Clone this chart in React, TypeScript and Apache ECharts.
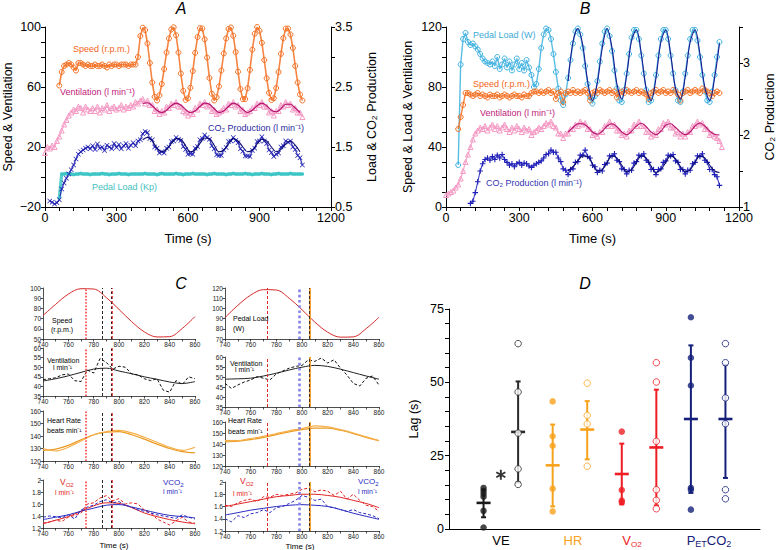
import React, { useEffect, useRef } from "react";
import * as echarts from "echarts";

const FONT = '"Liberation Sans", Arial, Helvetica, sans-serif';

// ---------------- Panel A (time in s) ----------------
const timeA = [
  0, 10, 20, 30, 40, 50, 60, 70, 80, 90,
  100, 110, 120, 130, 140, 150, 160, 170, 180, 190,
  200, 210, 220, 230, 240, 250, 260, 270, 280, 290,
  300, 310, 320, 330, 340, 350, 360, 370, 380, 390,
  400, 410, 420, 430, 440, 450, 460, 470, 480, 490,
  500, 510, 520, 530, 540, 550, 560, 570, 580, 590,
  600, 610, 620, 630, 640, 650, 660, 670, 680, 690,
  700, 710, 720, 730, 740, 750, 760, 770, 780, 790,
  800, 810, 820, 830, 840, 850, 860, 870, 880, 890,
  900, 910, 920, 930, 940, 950, 960, 970, 980, 990,
  1000, 1010, 1020, 1030, 1040, 1050, 1060, 1070, 1080,
];
const speedA = [
  null, null, null, null, null, null, 61, 70, 74, 75,
  76, 75, 73, 71, 76, 76, 75, 74, 75, 74,
  74, 75, 74, 74, 75, 74, 73, 75, 74, 75,
  75, 74, 75, 75, 75, 74, 75, 75, 75, 80,
  94, 99.5, 98, 89, 76, 63, 53.5, 51, 54.5, 62,
  72, 83, 92.4, 98.4, 99.8, 94.5, 83, 69, 57.4, 51.4,
  52.5, 59.5, 70.6, 82.8, 93.3, 99.2, 99, 91.8, 79.6, 66,
  55.5, 51, 53.2, 60.4, 71, 82.4, 92.4, 98.7, 99.7, 94.2,
  83.3, 70.2, 58.6, 51.9, 52, 59.2, 71.4, 84.9, 95.5, 100,
  97.5, 89.5, 78, 65.8, 56.1, 51.3, 52.5, 59.3, 70, 82.1,
  92.6, 98.9, 99, 95, 86, 74, 63, 55, 51,
];
const ventA = [
  16, 20, 19, 21, 20, 24, 27, 31, 35, 38,
  41, 43, 45, 44, 47, 46, 43, 47, 45, 44,
  46, 44, 47, 43, 46, 45, 48, 44, 46, 47,
  45, 46, 48, 45, 47, 46, 48, 47, 50, 49,
  51, 52, 49, 51, 48, 48, 44, 45, 42, 44,
  43, 47, 46, 49, 48, 50, 47, 47, 44, 43,
  41, 43, 42, 46, 45, 49, 48, 50, 47, 48,
  44, 45, 42, 43, 44, 46, 45, 49, 48, 50,
  47, 48, 44, 45, 42, 43, 44, 46, 46, 49,
  48, 50, 47, 47, 43, 44, 41, 44, 44, 48,
  47, 50, 48, 49, 45, 46, 43, 43, 40,
];
const co2A = [
  null, null, 0.6, 0.58, 0.55, 0.57, 0.62, 0.8, 0.9, 0.98,
  1.05, 1.12, 1.2, 1.3, 1.38, 1.42, 1.45, 1.48, 1.5, 1.47,
  1.52, 1.46, 1.55, 1.48, 1.5, 1.44, 1.53, 1.5, 1.47, 1.56,
  1.49, 1.54, 1.47, 1.52, 1.56, 1.48, 1.53, 1.57, 1.52, 1.6,
  1.62, 1.72, 1.76, 1.74, 1.64, 1.62, 1.5, 1.48, 1.4, 1.42,
  1.4, 1.48, 1.5, 1.59, 1.6, 1.66, 1.63, 1.61, 1.51, 1.46,
  1.38, 1.39, 1.38, 1.48, 1.51, 1.62, 1.64, 1.7, 1.66, 1.63,
  1.52, 1.47, 1.37, 1.36, 1.36, 1.45, 1.49, 1.59, 1.6, 1.66,
  1.61, 1.57, 1.47, 1.43, 1.35, 1.35, 1.34, 1.44, 1.48, 1.59,
  1.6, 1.67, 1.6, 1.56, 1.45, 1.41, 1.34, 1.38, 1.4, 1.5,
  1.52, 1.6, 1.58, 1.6, 1.5, 1.46, 1.36, 1.32, 1.2,
];
const loadA = [
  null, null, null, null, null, null, 0.65, 1.05, 1.05, 1.06,
  1.05, 1.05, 1.04, 1.05, 1.05, 1.06, 1.05, 1.05, 1.05, 1.04,
  1.05, 1.05, 1.05, 1.05, 1.06, 1.05, 1.05, 1.04, 1.05, 1.05,
  1.05, 1.06, 1.05, 1.05, 1.05, 1.04, 1.05, 1.05, 1.05, 1.05,
  1.05, 1.05, 1.06, 1.05, 1.05, 1.05, 1.05, 1.04, 1.05, 1.06,
  1.05, 1.05, 1.05, 1.05, 1.05, 1.06, 1.05, 1.05, 1.04, 1.05,
  1.05, 1.05, 1.06, 1.05, 1.05, 1.05, 1.05, 1.05, 1.04, 1.05,
  1.05, 1.06, 1.05, 1.05, 1.05, 1.05, 1.04, 1.05, 1.05, 1.06,
  1.05, 1.05, 1.05, 1.05, 1.06, 1.05, 1.05, 1.04, 1.05, 1.05,
  1.05, 1.06, 1.05, 1.05, 1.05, 1.04, 1.05, 1.05, 1.06, 1.05,
  1.05, 1.05, 1.05, 1.06, 1.05, 1.05, 1.05, 1.05, 1.05,
];
const fitTimeA = [
  410, 430, 450, 470, 490, 510, 530, 550, 570, 590,
  610, 630, 650, 670, 690, 710, 730, 750, 770, 790,
  810, 830, 850, 870, 890, 910, 930, 950, 970, 990,
  1010, 1030, 1050, 1070,
];
const ventFitA = [
  49, 49.5, 47.5, 44.5, 43, 44.5, 47.5, 49.3, 48, 45,
  43, 44, 47, 49.3, 48.5, 45.5, 43, 44, 47, 49.3,
  48, 45, 43, 44.5, 47.5, 49.3, 47.5, 44.5, 43.5, 45.5,
  48.5, 48.5, 46, 43,
];
const co2FitA = [
  1.62, 1.66, 1.6, 1.48, 1.42, 1.46, 1.56, 1.64, 1.63, 1.52,
  1.42, 1.45, 1.56, 1.65, 1.64, 1.53, 1.42, 1.45, 1.55, 1.64,
  1.6, 1.5, 1.42, 1.45, 1.55, 1.63, 1.6, 1.5, 1.42, 1.46,
  1.55, 1.6, 1.53, 1.42,
];

// ---------------- Panel B ----------------
const timeB = [
  0, 10, 20, 30, 40, 50, 60, 70, 80, 90,
  100, 110, 120, 130, 140, 150, 160, 170, 180, 190,
  200, 210, 220, 230, 240, 250, 260, 270, 280, 290,
  300, 310, 320, 330, 340, 350, 360, 370, 380, 390,
  400, 410, 420, 430, 440, 450, 460, 470, 480, 490,
  500, 510, 520, 530, 540, 550, 560, 570, 580, 590,
  600, 610, 620, 630, 640, 650, 660, 670, 680, 690,
  700, 710, 720, 730, 740, 750, 760, 770, 780, 790,
  800, 810, 820, 830, 840, 850, 860, 870, 880, 890,
  900, 910, 920, 930, 940, 950, 960, 970, 980, 990,
  1000, 1010, 1020, 1030, 1040, 1050, 1060, 1070, 1080, 1090,
  1100, 1110, 1120, 1130,
];
const loadB = [
  null, null, null, null, null, 28, 95, 112, 116, 110,
  108, 109, 107, 105, 102, 99, 97, 96, 95, 97,
  94, 100, 92, 95, 99, 93, 97, 91, 95, 99,
  92, 96, 91, 98, 93, 88, 80, 82, 92, 106,
  115, 119, 118, 112, 102, 90, 79, 71, 68, 75,
  86, 98, 109, 117, 119, 115, 106, 94, 82, 73,
  69, 74, 84, 97, 109, 117, 119, 114, 104, 91,
  79, 71, 70, 78, 89, 102, 113, 118, 118, 112,
  101, 89, 78, 70, 71, 77, 88, 101, 112, 118,
  118, 112, 101, 89, 78, 71, 70, 77, 89, 101,
  112, 118, 118, 111, 100, 88, 77, 71, 70, 77,
  88, 100, 110, null,
];
const speedB = [
  null, null, null, null, null, 52, 60, 68, 76, 76,
  75, 74, 75, 76, 74, 75, 74, 73, 75, 74,
  74, 75, 73, 74, 75, 74, 73, 74, 75, 74,
  74, 73, 75, 74, 74, 76, 77, 77, 76, 77,
  76, 77, 78, 76, 77, 72, 76, 77, 70, 76,
  77, 76, 78, 76, 77, 76, 77, 78, 76, 71,
  76, 77, 76, 78, 77, 76, 77, 78, 76, 77,
  73, 76, 77, 76, 78, 77, 76, 77, 78, 76,
  77, 76, 75, 72, 76, 77, 78, 76, 77, 78,
  76, 77, 76, 78, 77, 75, 71, 76, 77, 78,
  76, 77, 78, 77, 76, 79, 78, 77, 76, 74,
  76, 77, 76, null,
];
const ventB = [
  8, 9, 10, 11, 13, 15, 19, 24, 30, 35,
  40, 45, 49, 51, 53, 52, 54, 51, 53, 55,
  52, 54, 51, 53, 55, 52, 50, 53, 51, 54,
  52, 50, 53, 51, 52, 48, 50, 51, 53, 52,
  54, 56, 55, 57, 54, 53, 49, 49, 46, 49,
  49, 52, 52, 55, 54, 57, 55, 56, 52, 52,
  48, 49, 47, 50, 50, 54, 54, 57, 54, 55,
  51, 51, 48, 49, 47, 51, 51, 55, 54, 57,
  54, 54, 50, 50, 47, 49, 48, 52, 52, 56,
  55, 57, 53, 53, 49, 50, 47, 49, 47, 50,
  50, 54, 54, 57, 55, 56, 52, 52, 48, 49,
  47, 46, 44, 40,
];
const co2B = [
  null, null, null, null, null, null, null, null, null, null,
  1.05, 1.08, 1.2, 1.35, 1.5, 1.6, 1.66, 1.68, 1.65, 1.7,
  1.66, 1.72, 1.68, 1.73, 1.66, 1.62, 1.58, 1.6, 1.56, 1.6,
  1.62, 1.58, 1.61, 1.6, 1.57, 1.55, 1.58, 1.6, 1.62, 1.64,
  1.68, 1.73, 1.74, 1.79, 1.76, 1.76, 1.68, 1.63, 1.53, 1.51,
  1.45, 1.52, 1.53, 1.62, 1.63, 1.72, 1.72, 1.79, 1.7, 1.68,
  1.58, 1.56, 1.48, 1.51, 1.5, 1.59, 1.61, 1.71, 1.71, 1.74,
  1.65, 1.63, 1.53, 1.52, 1.46, 1.51, 1.51, 1.61, 1.63, 1.72,
  1.71, 1.74, 1.65, 1.62, 1.52, 1.52, 1.45, 1.52, 1.53, 1.62,
  1.64, 1.72, 1.71, 1.73, 1.64, 1.62, 1.52, 1.52, 1.46, 1.51,
  1.51, 1.6, 1.62, 1.71, 1.7, 1.74, 1.65, 1.62, 1.52, 1.52,
  1.45, 1.42, 1.3, null,
];
const fitTimeB = [
  500, 520, 540, 560, 580, 600, 620, 640, 660, 680,
  700, 720, 740, 760, 780, 800, 820, 840, 860, 880,
  900, 920, 940, 960, 980, 1000, 1020, 1040, 1060, 1080,
  1100, 1120,
];
const loadFitB = [
  84, 110, 119, 108, 84, 71, 83, 106, 119, 106,
  82, 72, 88, 111, 118, 102, 79, 71, 86, 110,
  118, 102, 79, 72, 87, 110, 118, 102, 80, 71,
  86, 109,
];
const ventFitB = [
  50, 53, 55.5, 55.5, 53.5, 50, 48.5, 50.5, 54, 55.5,
  53.5, 50, 48.2, 50.5, 54, 55.8, 53.5, 50, 48.2, 50.5,
  54.5, 55.5, 53, 50, 48.2, 50, 54, 56, 54, 50.5,
  48.5, 48,
];
const co2FitB = [
  1.5, 1.56, 1.64, 1.71, 1.7, 1.6, 1.5, 1.52, 1.62, 1.71,
  1.68, 1.58, 1.49, 1.52, 1.62, 1.71, 1.68, 1.57, 1.48, 1.52,
  1.62, 1.71, 1.67, 1.56, 1.49, 1.52, 1.62, 1.71, 1.68, 1.58,
  1.5, 1.48,
];

// ---------------- Panel C ----------------
const cT10 = [740, 750, 760, 770, 780, 790, 800, 810, 820, 830, 840, 850, 860];
const cT5 = [
  740, 745, 750, 755, 760, 765, 770, 775, 780, 785, 790, 795, 800,
  805, 810, 815, 820, 825, 830, 835, 840, 845, 850, 855, 860,
];
const speedC = [73, 84, 94, 99.3, 99, 90.6, 79, 67, 57, 52, 52.3, 60.4, 72];
const loadC = [91, 103, 113, 118.4, 118, 110, 98.7, 86.6, 76.7, 71.8, 72.1, 80.2, 91.3];
const ventFitCL = [42.8, 44, 45.5, 47.3, 49, 49.5, 48, 46.6, 45, 43.7, 42.3, 41.5, 42.5];
const ventDataCL = [
  43.5, 44, 44.5, 46, 46.5, 43, 42.5, 48.5, 47, 54.5, 52.5, 49, 50.5,
  50, 46.5, 46, 44, 43, 44, 38, 37, 43, 41, 45, 44,
];
const ventFitCR = [48.9, 49.1, 49.4, 50.5, 51.9, 53.5, 54.9, 55.8, 55.3, 53.9, 52.2, 50.5, 48.9];
const ventDataCR = [
  46.8, 44.3, 46, 47.5, 48.5, 50.2, 49.4, 48.5, 51.6, 53, 54.4, 55.3, 55.8,
  58.6, 57.8, 59.5, 57, 58.6, 54.4, 51, 46.8, 45.5, 49.4, 50.5, 46,
];
const hrDataCL = [130, 128, 131, 136, 141, 143.5, 144.5, 142.5, 139, 135, 131, 128.5, 131];
const hrFitCL = [128.5, 129.5, 132.5, 137, 141, 143, 143.5, 141, 137.5, 133.5, 130, 127.5, 126.5];
const hrDataCR = [143, 143, 145, 147, 149.5, 152, 154, 156.5, 155.5, 153, 150, 146.5, 143];
const hrFitCR = [142, 142.5, 144, 146, 148.5, 151, 153, 154.5, 154.5, 152.5, 149.5, 146, 143];
const vo2DataCL = [
  1.28, 1.3, 1.33, 1.31, 1.38, 1.41, 1.45, 1.6, 1.62, 1.7, 1.74, 1.65, 1.69,
  1.6, 1.62, 1.6, 1.5, 1.45, 1.35, 1.3, 1.25, 1.32, 1.38, 1.3, 1.28,
];
const vco2DataCL = [
  1.38, 1.4, 1.39, 1.37, 1.42, 1.35, 1.5, 1.55, 1.58, 1.64, 1.67, 1.62, 1.64,
  1.58, 1.55, 1.5, 1.48, 1.45, 1.42, 1.4, 1.38, 1.36, 1.42, 1.38, 1.35,
];
const vo2FitCL = [1.27, 1.33, 1.39, 1.48, 1.57, 1.62, 1.61, 1.54, 1.45, 1.39, 1.34, 1.3, 1.27];
const vco2FitCL = [1.34, 1.38, 1.42, 1.48, 1.53, 1.58, 1.59, 1.55, 1.5, 1.45, 1.41, 1.39, 1.37];
const vo2DataCR = [
  1.62, 1.6, 1.66, 1.7, 1.72, 1.68, 1.76, 1.75, 1.8, 1.78, 1.8, 1.82, 1.88,
  1.9, 1.84, 1.87, 1.85, 1.78, 1.85, 1.72, 1.8, 1.7, 1.62, 1.6, 1.52,
];
const vco2DataCR = [
  1.4, 1.35, 1.45, 1.42, 1.48, 1.5, 1.55, 1.5, 1.58, 1.6, 1.65, 1.7, 1.78,
  1.75, 1.7, 1.72, 1.6, 1.58, 1.55, 1.52, 1.55, 1.5, 1.48, 1.45, 1.4,
];
const vo2FitCR = [1.6, 1.64, 1.68, 1.72, 1.76, 1.78, 1.8, 1.8, 1.78, 1.75, 1.7, 1.65, 1.58];
const vco2FitCR = [1.46, 1.5, 1.54, 1.57, 1.6, 1.62, 1.63, 1.62, 1.6, 1.55, 1.49, 1.44, 1.39];
const lagMarksLeft = [774, 787, 794];
const lagMarksRight = [773, 798, 806];

// ---------------- Panel D (lag, s) ----------------
const dPositions = [1, 2, 3, 4, 5, 6, 7, 8];
const veFilled = [0.5, 6.2, 11, 12, 13, 14];
const veOpen = [63.2, 46.7, 32.7, 20.5, 15.2];
const hrFilled = [43.5, 31.6, 28.4, 13.75, 6.0];
const hrOpen = [49.7, 38.75, 35.8, 21.4];
const vo2Filled = [33.2, 13.3, 9.7, 9.1];
const vo2Open = [56.7, 50.1, 29.9, 13.4, 9.8, 6.9];
const petFilled = [72.2, 58.4, 48.9, 14.0, 13.4, 6.6];
const petOpen = [63.2, 56.7, 44.7, 35.9, 13.4, 10.3];
const dMeans = [8.9, 33.1, 21.7, 33.9, 18.75, 27.8, 37.5, 37.5];
const dLow = [4.0, 15.9, 7.7, 23.75, 8.4, 8.0, 12.3, 17.4];
const dHigh = [13.4, 50.3, 35.6, 43.6, 29.1, 47.5, 62.6, 56.0];
const starPoint = [1.5, 18.5];

// ---------------- helpers ----------------
const C_ORANGE = "#f36f21";
const C_PINK = "#f59ac4";
const C_MAGENTA = "#b3126e";
const C_NAVY = "#1c1cb0";
const C_TEAL = "#3ec6c6";
const C_SKY = "#3cb0e0";
const D_COLORS = ["#1a1a1a", "#2a2a2a", "#f7a21b", "#f7a21b", "#ee1d23", "#ee1d23", "#14207a", "#14207a"];

const X_MARK = "path://M0,1L1,0L5,4L9,0L10,1L6,5L10,9L9,10L5,6L1,10L0,9L4,5Z";
const PLUS_MARK = "path://M4,0H6V4H10V6H6V10H4V6H0V4H4Z";
const STAR_MARK =
  "path://M4.1,0L5.9,0L5.9,10L4.1,10Z M0.22,3.28L1.12,1.72L9.78,6.72L8.88,8.28Z M8.88,1.72L9.78,3.28L1.12,8.28L0.22,6.72Z";

function pairs(t: number[], v: (number | null)[]) {
  const out: number[][] = [];
  t.forEach((x, i) => {
    const y = v[i];
    if (y !== null && y !== undefined) out.push([x, y]);
  });
  return out;
}

function txt(x: number, y: number, text: string, o: any = {}) {
  const align = o.align || "left";
  return {
    type: "text",
    x,
    y,
    silent: true,
    z: 100,
    style: {
      text,
      fill: o.fill || "#000",
      fontSize: o.size || 9,
      fontFamily: FONT,
      fontStyle: o.italic ? "italic" : "normal",
      fontWeight: "normal",
      align,
      textAlign: align,
      verticalAlign: "middle",
      textVerticalAlign: "middle",
      rich: o.rich,
    },
  };
}

const axisBlack = { color: "#000", width: 1 };

function mainX(gi: number) {
  return {
    gridIndex: gi,
    type: "value",
    min: 0,
    max: 1200,
    interval: 60,
    axisLine: { show: true, onZero: false, lineStyle: axisBlack },
    axisTick: { show: true, length: 4, lineStyle: axisBlack },
    splitLine: { show: false },
    axisLabel: {
      fontSize: 12.5,
      color: "#000",
      margin: 4,
      fontFamily: FONT,
      fontWeight: "normal",
      formatter: (v: number) => (v % 300 === 0 ? String(v) : ""),
    },
    name: "Time (s)",
    nameLocation: "middle",
    nameGap: 25,
    nameTextStyle: { fontSize: 13, color: "#000", fontFamily: FONT, fontWeight: "normal" },
  };
}

function mainY(gi: number, pos: string, min: number, max: number, interval: number, show: (v: number) => boolean, name: string, gap: number) {
  return {
    gridIndex: gi,
    type: "value",
    position: pos,
    min,
    max,
    interval,
    axisLine: { show: true, onZero: false, lineStyle: axisBlack },
    axisTick: { show: true, length: 4, lineStyle: axisBlack },
    splitLine: { show: false },
    axisLabel: {
      fontSize: 12.5,
      color: "#000",
      margin: 4,
      fontFamily: FONT,
      fontWeight: "normal",
      formatter: (v: number) => (show(v) ? (v < 0 ? "\u2212" + Math.abs(v) : String(v)) : ""),
    },
    name,
    nameLocation: "middle",
    nameGap: gap,
    nameTextStyle: { fontSize: 12.5, color: "#000", fontFamily: FONT, fontWeight: "normal" },
  };
}

const cAxisLine = { color: "#222", width: 0.8 };
function cX(gi: number) {
  return {
    gridIndex: gi,
    type: "value",
    min: 740,
    max: 860,
    interval: 10,
    axisLine: { show: true, onZero: false, lineStyle: cAxisLine },
    axisTick: { show: true, length: 2.5, lineStyle: cAxisLine },
    splitLine: { show: false },
    axisLabel: {
      fontSize: 6.5,
      color: "#222",
      margin: 2,
      fontFamily: FONT,
      formatter: (v: number) => (v % 20 === 0 ? String(v) : ""),
    },
  };
}
function cY(gi: number, min: number, max: number, interval: number) {
  return {
    gridIndex: gi,
    type: "value",
    position: "left",
    min,
    max,
    interval,
    axisLine: { show: true, onZero: false, lineStyle: cAxisLine },
    axisTick: { show: true, length: 2.5, lineStyle: cAxisLine },
    splitLine: { show: false },
    axisLabel: {
      fontSize: 6.5,
      color: "#222",
      margin: 2,
      fontFamily: FONT,
      formatter: (v: number) => String(Math.round(v * 10) / 10),
    },
  };
}

function cLine(gi: number, t: number[], v: number[], color: string, width: number, dashed = false, smooth = true, extra: any = {}) {
  return {
    type: "line",
    xAxisIndex: gi,
    yAxisIndex: gi + 2,
    data: pairs(t, v),
    symbol: "none",
    showSymbol: false,
    smooth: smooth ? 0.35 : false,
    silent: true,
    lineStyle: { color, width, type: dashed ? [3, 2] : "solid" },
    z: 3,
    ...extra,
  };
}

function marks(list: number[], right: boolean) {
  const st = right
    ? [
        [{ color: "#e32626", type: [3, 2], width: 1 }],
        [{ color: "#8484e8", type: "dotted", width: 2.6 }],
        [{ color: "#f2a33a", type: "solid", width: 2 }, { color: "#111", type: [3, 2], width: 0.8 }],
      ]
    : [
        [{ color: "#ff3b3b", type: "dotted", width: 1.6 }],
        [{ color: "#111", type: [3, 2], width: 0.9 }],
        [{ color: "#d62828", type: [3, 2], width: 1.6 }, { color: "#111", type: [2, 3], width: 0.8 }],
      ];
  const data: any[] = [];
  list.forEach((x, i) => st[i].forEach((ls) => data.push({ xAxis: x, lineStyle: ls })));
  return { silent: true, symbol: "none", label: { show: false }, data, z: 5 };
}

// measured breath-by-breath series: markers joined by a thin line of the same colour
function measured(gi: number, yi: number, t: number[], v: (number | null)[], symbol: string, size: number, color: string, hollow: boolean, lw = 1) {
  return {
    type: "line",
    xAxisIndex: gi,
    yAxisIndex: yi,
    data: pairs(t, v),
    symbol,
    symbolSize: size,
    showSymbol: true,
    showAllSymbol: true,
    silent: true,
    lineStyle: { color, width: lw, opacity: 0.85 },
    itemStyle: hollow ? { color: "transparent", borderColor: color, borderWidth: 1 } : { color, borderWidth: 0 },
    z: 2,
  };
}
function fitLine(gi: number, yi: number, t: number[], v: number[], color: string, width: number) {
  return {
    type: "line",
    xAxisIndex: gi,
    yAxisIndex: yi,
    data: pairs(t, v),
    symbol: "none",
    showSymbol: false,
    smooth: 0.35,
    silent: true,
    lineStyle: { color, width },
    z: 4,
  };
}

function dPoints(pos: number, vals: number[], color: string, open: boolean) {
  return {
    type: "scatter",
    xAxisIndex: 10,
    yAxisIndex: 12,
    data: vals.map((v) => [pos, v]),
    symbol: "circle",
    symbolSize: 6.5,
    silent: true,
    itemStyle: open ? { color: "#fff", borderColor: color, borderWidth: 1 } : { color },
    z: 6,
  };
}

function buildOption() {
  const grids = [
    { left: 42, top: 27, width: 289, height: 180 },
    { left: 446, top: 27, width: 293, height: 180 },
    { left: 43, top: 288, width: 152, height: 51 },
    { left: 43, top: 348, width: 152, height: 48 },
    { left: 43, top: 411, width: 152, height: 50 },
    { left: 43, top: 480, width: 152, height: 48 },
    { left: 225, top: 288, width: 154, height: 51 },
    { left: 225, top: 357, width: 154, height: 50 },
    { left: 225, top: 422, width: 154, height: 44 },
    { left: 225, top: 482, width: 154, height: 49 },
    { left: 449, top: 309, width: 311, height: 220 },
  ];

  const xAxis: any[] = [mainX(0), mainX(1)];
  for (let g = 2; g <= 9; g++) xAxis.push(cX(g));
  xAxis.push({
    gridIndex: 10,
    type: "value",
    min: 0,
    max: 9,
    axisLine: { show: true, onZero: false, lineStyle: axisBlack },
    axisTick: { show: false },
    axisLabel: { show: false },
    splitLine: { show: false },
  });

  const yAxis: any[] = [
    mainY(0, "left", -20, 100, 10, (v) => (v + 20) % 40 === 0, "Speed & Ventilation", 31),
    mainY(0, "right", 0.5, 3.5, 0.5, (v) => Math.abs(((v - 0.5) % 1)) < 1e-6, "Load & CO\u2082 Production", 34),
    mainY(1, "left", 0, 120, 10, (v) => v % 40 === 0, "Speed & Load & Ventilation", 32),
    mainY(1, "right", 1, 3.5, 0.5, (v) => Math.abs(v - Math.round(v)) < 1e-6, "CO\u2082 Production", 24),
    cY(2, 50, 100, 10),
    cY(3, 35, 60, 5),
    cY(4, 120, 160, 10),
    cY(5, 1.2, 2, 0.2),
    cY(6, 70, 120, 10),
    cY(7, 35, 60, 5),
    cY(8, 120, 160, 10),
    cY(9, 1.2, 2, 0.2),
    {
      gridIndex: 10,
      type: "value",
      min: 0,
      max: 75,
      interval: 5,
      axisLine: { show: true, onZero: false, lineStyle: axisBlack },
      axisTick: { show: true, length: 4, lineStyle: axisBlack },
      splitLine: { show: false },
      axisLabel: {
        fontSize: 12.5,
        color: "#000",
        margin: 5,
        fontFamily: FONT,
        formatter: (v: number) => (v % 25 === 0 ? String(v) : ""),
      },
      name: "Lag (s)",
      nameLocation: "middle",
      nameGap: 29,
      nameTextStyle: { fontSize: 12.5, color: "#000", fontFamily: FONT },
    },
  ];

  const series: any[] = [
    // Panel A
    { ...measured(0, 1, timeA, loadA, "circle", 3.5, C_TEAL, false, 3.2) },
    measured(0, 0, timeA, ventA, "triangle", 5, C_PINK, true, 1.2),
    measured(0, 0, timeA, speedA, "circle", 5, C_ORANGE, true, 1.6),
    measured(0, 1, timeA, co2A, X_MARK, 5, C_NAVY, false, 1.2),
    fitLine(0, 0, fitTimeA, ventFitA, C_MAGENTA, 1.2),
    fitLine(0, 1, fitTimeA, co2FitA, "#0b0b70", 1.1),
    // Panel B
    measured(1, 2, timeB, loadB, "circle", 5, C_SKY, true, 1.4),
    measured(1, 2, timeB, speedB, "circle", 5, C_ORANGE, true, 1.4),
    measured(1, 2, timeB, ventB, "triangle", 5, C_PINK, true, 1.2),
    measured(1, 3, timeB, co2B, PLUS_MARK, 5.5, "#2020b8", false, 1.1),
    fitLine(1, 2, fitTimeB, loadFitB, "#1a1a90", 1.1),
    fitLine(1, 2, fitTimeB, ventFitB, C_MAGENTA, 1.1),
    fitLine(1, 3, fitTimeB, co2FitB, "#0b0b70", 1.1),
    // Panel C left
    cLine(2, cT10, speedC, "#d42a2a", 1, false, true, { markLine: marks(lagMarksLeft, false) }),
    cLine(3, cT10, ventFitCL, "#222", 1),
    cLine(3, cT5, ventDataCL, "#111", 1, true, false, { markLine: marks(lagMarksLeft, false) }),
    cLine(4, cT10, hrFitCL, "#eb9a22", 1.2),
    cLine(4, cT10, hrDataCL, "#f6b04a", 1.2, false, true, { markLine: marks(lagMarksLeft, false) }),
    cLine(5, cT10, vo2FitCL, "#e02424", 1),
    cLine(5, cT10, vco2FitCL, "#2a2ac0", 1),
    cLine(5, cT5, vo2DataCL, "#e02424", 1, true, false),
    cLine(5, cT5, vco2DataCL, "#2a2ac0", 1, true, false, { markLine: marks(lagMarksLeft, false) }),
    // Panel C right
    cLine(6, cT10, loadC, "#d42a2a", 1, false, true, { markLine: marks(lagMarksRight, true) }),
    cLine(7, cT10, ventFitCR, "#222", 1),
    cLine(7, cT5, ventDataCR, "#111", 1, true, false, { markLine: marks(lagMarksRight, true) }),
    cLine(8, cT10, hrFitCR, "#eb9a22", 1.2),
    cLine(8, cT10, hrDataCR, "#f6b04a", 1.2, false, true, { markLine: marks(lagMarksRight, true) }),
    cLine(9, cT10, vo2FitCR, "#e02424", 1),
    cLine(9, cT10, vco2FitCR, "#2a2ac0", 1),
    cLine(9, cT5, vo2DataCR, "#e02424", 1, true, false),
    cLine(9, cT5, vco2DataCR, "#2a2ac0", 1, true, false, { markLine: marks(lagMarksRight, true) }),
    // Panel D: mean +/- SD bars
    {
      type: "custom",
      xAxisIndex: 10,
      yAxisIndex: 12,
      silent: true,
      z: 4,
      data: dPositions.map((p, i) => [p, dMeans[i], dLow[i], dHigh[i], i]),
      encode: { x: 0, y: 1 },
      renderItem: (params: any, api: any) => {
        const x = api.value(0);
        const c = D_COLORS[api.value(4)];
        const pm = api.coord([x, api.value(1)]);
        const pl = api.coord([x, api.value(2)]);
        const ph = api.coord([x, api.value(3)]);
        return {
          type: "group",
          children: [
            { type: "line", shape: { x1: pl[0], y1: pl[1], x2: ph[0], y2: ph[1] }, style: { stroke: c, lineWidth: 2 } },
            { type: "line", shape: { x1: ph[0] - 2.5, y1: ph[1], x2: ph[0] + 2.5, y2: ph[1] }, style: { stroke: c, lineWidth: 2 } },
            { type: "line", shape: { x1: pl[0] - 2.5, y1: pl[1], x2: pl[0] + 2.5, y2: pl[1] }, style: { stroke: c, lineWidth: 2 } },
            { type: "line", shape: { x1: pm[0] - 7, y1: pm[1], x2: pm[0] + 7, y2: pm[1] }, style: { stroke: c, lineWidth: 2.6 } },
          ],
        };
      },
    },
    dPoints(1, veFilled, D_COLORS[0], false),
    dPoints(2, veOpen, D_COLORS[1], true),
    dPoints(3, hrFilled, D_COLORS[2], false),
    dPoints(4, hrOpen, D_COLORS[3], true),
    dPoints(5, vo2Filled, D_COLORS[4], false),
    dPoints(6, vo2Open, D_COLORS[5], true),
    dPoints(7, petFilled, D_COLORS[6], false),
    dPoints(8, petOpen, D_COLORS[7], true),
    {
      type: "scatter",
      xAxisIndex: 10,
      yAxisIndex: 12,
      data: [starPoint],
      symbol: STAR_MARK,
      symbolSize: 10,
      silent: true,
      itemStyle: { color: "#000" },
      z: 6,
    },
  ];

  const small = 7;
  const redRich = {
    a: { fontSize: 8.5, fill: "#e02424", fontFamily: FONT, lineHeight: 11 },
    b: { fontSize: 6, fill: "#e02424", fontFamily: FONT, lineHeight: 6, verticalAlign: "bottom" },
  };
  const blueRich = {
    a: { fontSize: 8, fill: "#2a2ac0", fontFamily: FONT, lineHeight: 11 },
    b: { fontSize: 6, fill: "#2a2ac0", fontFamily: FONT, lineHeight: 6, verticalAlign: "bottom" },
  };

  const graphic: any[] = [
    txt(181, 8, "A", { size: 16, italic: true, align: "center" }),
    txt(585, 8, "B", { size: 16, italic: true, align: "center" }),
    txt(181, 283, "C", { size: 16, italic: true, align: "center" }),
    txt(585, 283, "D", { size: 16, italic: true, align: "center" }),
    // A labels
    txt(73, 48.5, "Speed (r.p.m.)", { fill: "#f26522" }),
    txt(60, 92, "Ventilation (l min\u207B\u00B9)", { fill: "#c2187a" }),
    txt(208, 128, "CO\u2082 Production (l min\u207B\u00B9)", { fill: "#2a2aa0" }),
    txt(92, 187, "Pedal Load (Kp)", { fill: "#3fc0c0" }),
    // B labels
    txt(473, 35, "Pedal Load (W)", { fill: "#41aad6" }),
    txt(473, 84, "Speed (r.p.m.)", { fill: "#f26522" }),
    txt(480, 113, "Ventilation (l min\u207B\u00B9)", { fill: "#c2187a" }),
    txt(486, 183, "CO\u2082 Production (l min\u207B\u00B9)", { fill: "#3434b0" }),
    // C left
    txt(52, 320.5, "Speed", { size: small }),
    txt(51, 329.5, "(r.p.m.)", { size: small }),
    txt(47, 360, "Ventilation", { size: small }),
    txt(53, 367, "l min\u207B\u00B9", { size: small }),
    txt(47, 420.5, "Heart Rate", { size: small }),
    txt(47, 430.5, "beats min\u207B\u00B9", { size: small }),
    txt(60, 482, "{a|V}{b|O2}", { rich: redRich }),
    txt(55, 492, "l min\u207B\u00B9", { size: small, fill: "#e02424" }),
    txt(163, 482, "{a|VCO}{b|2}", { rich: blueRich }),
    txt(163, 491.5, "l min\u207B\u00B9", { size: small, fill: "#2a2ac0" }),
    txt(114, 545, "Time (s)", { size: 8, align: "center" }),
    // C right
    txt(233, 318, "Pedal Load", { size: small }),
    txt(233, 328.5, "(W)", { size: small }),
    txt(230, 363, "Ventilation", { size: small }),
    txt(235, 369.5, "l min\u207B\u00B9", { size: small }),
    txt(228, 420.5, "Heart Rate", { size: small }),
    txt(228, 431, "beats min\u207B\u00B9", { size: small }),
    txt(240, 481, "{a|V}{b|O2}", { rich: redRich }),
    txt(233, 493, "l min\u207B\u00B9", { size: small, fill: "#e02424" }),
    txt(358, 481, "{a|VCO}{b|2}", { rich: blueRich }),
    txt(358, 491, "l min\u207B\u00B9", { size: small, fill: "#2a2ac0" }),
    txt(300, 546, "Time (s)", { size: 8, align: "center" }),
    // D category labels
    txt(501, 540, "VE", { size: 13, align: "center", fill: "#000" }),
    txt(573, 540, "HR", { size: 13, align: "center", fill: "#f7a21b" }),
    txt(632, 540, "{a|V}{b|O2}", {
      align: "center",
      rich: {
        a: { fontSize: 13, fill: "#ee1d23", fontFamily: FONT, lineHeight: 17 },
        b: { fontSize: 8, fill: "#ee1d23", fontFamily: FONT, lineHeight: 8, verticalAlign: "bottom" },
      },
    }),
    txt(709, 540, "{a|P}{c|ET}{a|CO}{b|2}", {
      align: "center",
      rich: {
        a: { fontSize: 13, fill: "#14207a", fontFamily: FONT, lineHeight: 17 },
        c: { fontSize: 9, fill: "#14207a", fontFamily: FONT, lineHeight: 12, verticalAlign: "bottom" },
        b: { fontSize: 9, fill: "#14207a", fontFamily: FONT, lineHeight: 9, verticalAlign: "bottom" },
      },
    }),
  ];

  return {
    animation: false,
    backgroundColor: "#fff",
    textStyle: { fontFamily: FONT },
    grid: grids.map((g) => ({ ...g, containLabel: false })),
    xAxis,
    yAxis,
    series,
    graphic,
  };
}

export default function App() {
  const ref = useRef<HTMLDivElement>(null);
  useEffect(() => {
    if (!ref.current) return;
    const chart = echarts.init(ref.current, null, { renderer: "svg", width: 778, height: 550 });
    chart.setOption(buildOption() as any);
    return () => chart.dispose();
  }, []);
  return (
    <div
      ref={ref}
      style={{ position: "absolute", left: 0, top: 0, width: 778, height: 550, background: "#fff" }}
    />
  );
}
